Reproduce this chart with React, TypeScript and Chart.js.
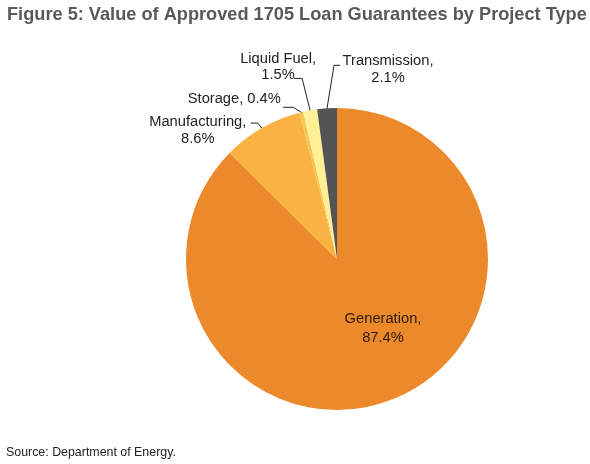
import React, { useEffect, useRef } from "react";
import { Chart, registerables } from "chart.js";

Chart.register(...registerables);

// ---- data ----
const categories = ["Generation", "Manufacturing", "Storage", "Liquid Fuel", "Transmission"];
const shares = [87.4, 8.6, 0.4, 1.5, 2.1];
const sliceColors = ["#EB892B", "#FAB242", "#F7C553", "#FFF096", "#545454"];
const titleText = "Figure 5: Value of Approved 1705 Loan Guarantees by Project Type";
const sourceText = "Source: Department of Energy.";

const FONT = "'Liberation Sans', Arial, sans-serif";

// label layout (relative to each slice's outer-edge anchor, or pie center for inside labels)
type LabelLayout = {
  inside?: boolean;
  singleLine?: boolean;
  dx: number;
  baselines: number[];
  leader?: { elbow: [number, number]; end: [number, number] };
};
const labelLayout: LabelLayout[] = [
  { inside: true, dx: 46, baselines: [64, 83] },
  { dx: -64, baselines: [-2, 15], leader: { elbow: [-4, -5], end: [-11, -5] } },
  { singleLine: true, dx: -67, baselines: [-9], leader: { elbow: [-8, -5], end: [-18, -5] } },
  { dx: -32, baselines: [-47, -31], leader: { elbow: [-8, -32], end: [-16, -32] } },
  { dx: 61, baselines: [-43, -26], leader: { elbow: [7, -43], end: [13, -43] } },
];

const labelPlugin = {
  id: "sliceLabels",
  afterDraw(chart: any) {
    const ctx = chart.ctx as CanvasRenderingContext2D;
    ctx.save();
    // title
    ctx.fillStyle = "#595959";
    ctx.font = `bold 18.2px ${FONT}`;
    ctx.textAlign = "left";
    ctx.textBaseline = "alphabetic";
    ctx.fillText(titleText, 7, 20);
    // source
    ctx.fillStyle = "#222222";
    ctx.font = `12.4px ${FONT}`;
    ctx.fillText(sourceText, 6, 456);

    const meta = chart.getDatasetMeta(0);
    meta.data.forEach((arc: any, i: number) => {
      const p = arc.getProps(["x", "y", "startAngle", "endAngle", "outerRadius"], true);
      const mid = (p.startAngle + p.endAngle) / 2;
      const L = labelLayout[i];
      const bx = L.inside ? p.x : p.x + Math.cos(mid) * p.outerRadius;
      const by = L.inside ? p.y : p.y + Math.sin(mid) * p.outerRadius;
      const lines = L.singleLine
        ? [`${categories[i]}, ${shares[i]}%`]
        : [`${categories[i]},`, `${shares[i]}%`];
      ctx.fillStyle = L.inside ? "#2a1a0a" : "#222222";
      ctx.font = `14.7px ${FONT}`;
      ctx.textAlign = "center";
      lines.forEach((t, k) => ctx.fillText(t, bx + L.dx, by + L.baselines[k]));
      if (L.leader) {
        ctx.strokeStyle = "#222222";
        ctx.lineWidth = 1;
        ctx.beginPath();
        ctx.moveTo(bx, by);
        ctx.lineTo(bx + L.leader.elbow[0], by + L.leader.elbow[1]);
        ctx.lineTo(bx + L.leader.end[0], by + L.leader.end[1]);
        ctx.stroke();
      }
    });
    ctx.restore();
  },
};

export default function App() {
  const ref = useRef<HTMLCanvasElement | null>(null);
  useEffect(() => {
    if (!ref.current) return;
    const chart = new Chart(ref.current, {
      type: "pie",
      data: {
        labels: categories,
        datasets: [
          {
            data: shares,
            backgroundColor: sliceColors,
            borderWidth: 0,
          },
        ],
      },
      options: {
        responsive: false,
        animation: false,
        layout: { padding: { left: 186, right: 102, top: 108, bottom: 54 } },
        plugins: {
          legend: { display: false },
          tooltip: { enabled: false },
          title: { display: false },
        },
      },
      plugins: [labelPlugin],
    });
    return () => chart.destroy();
  }, []);
  return (
    <div style={{ position: "absolute", left: 0, top: 0, width: 590, height: 464, background: "#ffffff" }}>
      <canvas ref={ref} width={590} height={464} />
    </div>
  );
}
